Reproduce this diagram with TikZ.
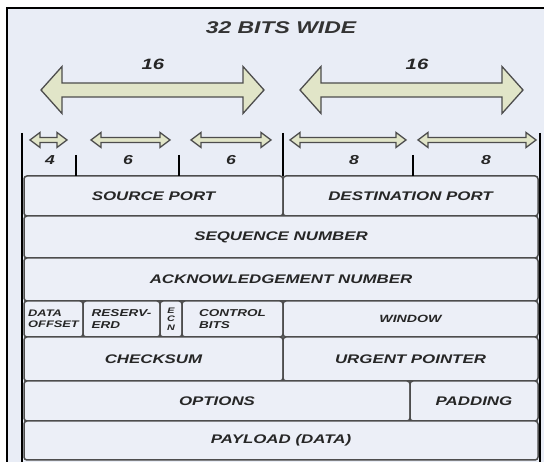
\documentclass[tikz,border=0pt]{standalone}
\usepackage{fontspec}
\usetikzlibrary{positioning}
\newfontfamily\fieldfont[FakeStretch=1.35]{Liberation Sans}
\definecolor{bg}{HTML}{E9EDF6}
\definecolor{boxfill}{HTML}{ECEFF7}
\definecolor{edge}{HTML}{4D4D4D}
\definecolor{barfill}{HTML}{E1E5C8}
\definecolor{ink}{HTML}{262626}
% x1, x2, y, half shaft, half head, head length
\newcommand{\widthbar}[6]{\draw[bar] (#1,#3) -- (#1+#6,#3-#5) -- (#1+#6,#3-#4)
 -- (#2-#6,#3-#4) -- (#2-#6,#3-#5) -- (#2,#3) -- (#2-#6,#3+#5) -- (#2-#6,#3+#4)
 -- (#1+#6,#3+#4) -- (#1+#6,#3+#5) -- cycle;}
\begin{document}
\begin{tikzpicture}[x=1pt,y=-1pt, every node/.style={inner sep=1pt,outer sep=0pt,text=ink},
 lbl/.style={font=\fieldfont\bfseries\itshape\fontsize{#1}{#1}\selectfont},
 field/.style={draw=edge,line width=1.5pt,fill=boxfill,rounded corners=3pt,
 anchor=north west,lbl=12.5},
 bar/.style={draw=edge,line width=1.3pt,fill=barfill,line join=miter},
 rule/.style={line width=1.8pt}]
\useasboundingbox (0,0) rectangle (544,462);
\fill[white] (0,0) rectangle (544,462);
\fill[bg] (7,8) rectangle (560,480);
\draw[line width=2pt] (7,480) -- (7,8) -- (560,8);
% widths
\node[lbl=17,text=black!80] (title) at (281,28) {32 BITS WIDE};
\node[lbl=15] (half1) at (153,64) {16};
\node[lbl=15] (half2) at (417,64) {16};
\widthbar{41}{264}{90}{7}{23.5}{21}
\widthbar{300}{523}{90}{7}{23.5}{21}
\widthbar{30}{67}{140}{2.5}{7.5}{10}
\widthbar{91}{170}{140}{2.5}{7.5}{10}
\widthbar{191}{271}{140}{2.5}{7.5}{10}
\widthbar{290}{406}{140}{2.5}{7.5}{10}
\widthbar{418}{536}{140}{2.5}{7.5}{10}
\node[lbl=13] (w4) at (50,160) {4};
\node[lbl=13] (w6a) at (128,160) {6};
\node[lbl=13] (w6b) at (231,160) {6};
\node[lbl=13] (w8a) at (354,160) {8};
\node[lbl=13] (w8b) at (486,160) {8};
% header fields
\node[field,minimum width=259pt,minimum height=40pt] (sp) at (24,176) {SOURCE PORT};
\node[field,right=0pt of sp,minimum width=255pt,minimum height=40pt] (dp) {DESTINATION PORT};
\node[field,minimum width=514pt,minimum height=42pt] (seq) at (sp.south west) {SEQUENCE NUMBER};
\node[field,minimum width=514pt,minimum height=43pt] (ack) at (seq.south west) {ACKNOWLEDGEMENT NUMBER};
\node[field,minimum width=59pt,minimum height=36pt,lbl=9.5,align=left] (doff) at (ack.south west) {DATA\\[1.5pt]OFFSET};
\node[field,right=0pt of doff,minimum width=77pt,minimum height=36pt,lbl=10,align=left] (rsv) {RESERV-\\[1.5pt]ERD};
\node[field,right=0pt of rsv,minimum width=22pt,minimum height=36pt,lbl=8] (ecn) {\shortstack{E\\C\\N}};
\node[field,right=0pt of ecn,minimum width=101pt,minimum height=36pt,lbl=10,align=left] (ctl) {CONTROL\\[1.5pt]BITS};
\node[field,right=0pt of ctl,minimum width=255pt,minimum height=36pt,lbl=10.5] (win) {WINDOW};
\node[field,minimum width=259pt,minimum height=44pt] (cks) at (doff.south west) {CHECKSUM};
\node[field,right=0pt of cks,minimum width=255pt,minimum height=44pt] (urg) {URGENT POINTER};
\node[field,minimum width=386pt,minimum height=40pt] (opt) at (cks.south west) {OPTIONS};
\node[field,right=0pt of opt,minimum width=128pt,minimum height=40pt] (pad) {PADDING};
\node[field,minimum width=514pt,minimum height=39pt] (pay) at (opt.south west) {PAYLOAD (DATA)};
% bit rulers
\draw[rule] (22,133) -- (22,480);\draw[rule] (540,133) -- (540,480);
\draw[rule] (283,133) -- (283,176);
\foreach \x in {76,179,413} \draw[rule] (\x,155) -- (\x,176);
\end{tikzpicture}
\end{document}
